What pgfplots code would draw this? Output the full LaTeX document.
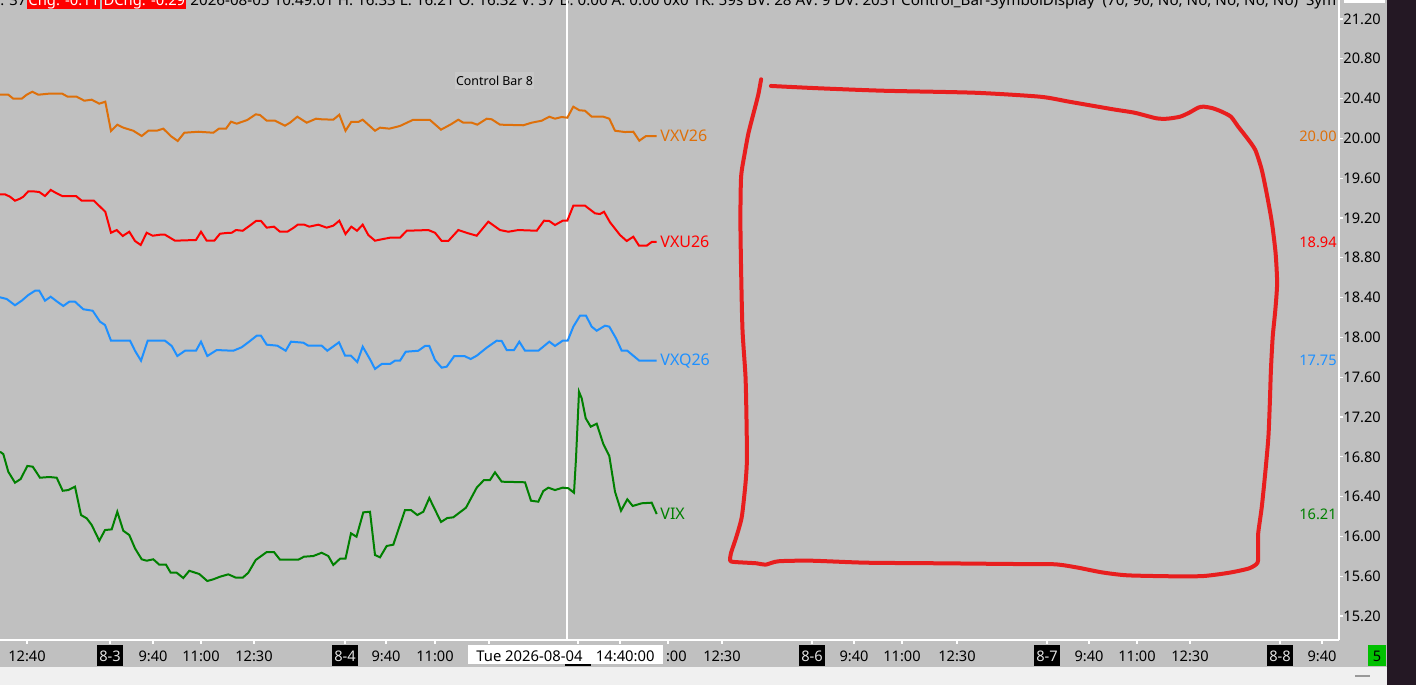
\documentclass[border=0pt]{standalone}
\usepackage{graphicx}
\usepackage{pgfplots}
\pgfplotsset{compat=1.18}
\usepackage{fontspec}
\setmainfont{Noto Sans}
\definecolor{bg}{RGB}{192,192,192}
\definecolor{lite}{RGB}{240,240,240}
\definecolor{dark}{RGB}{36,24,36}
\definecolor{cOr}{RGB}{222,112,10}
\definecolor{cRd}{RGB}{255,0,0}
\definecolor{cBl}{RGB}{30,144,255}
\definecolor{cGr}{RGB}{0,128,0}
\definecolor{cPen}{RGB}{232,30,30}
\definecolor{lbl}{RGB}{225,225,225}
\definecolor{cbg}{RGB}{200,200,200}
\definecolor{grn5}{RGB}{0,192,0}
\newcommand\tf{\fontsize{7.3}{9}\selectfont}
\newcommand\hf{\fontsize{7.4}{9}\selectfont}
\newcommand\lf{\fontsize{8}{10}\selectfont}
\newcommand\cf{\fontsize{6.2}{8}\selectfont}
\newcommand\dl[1]{{\setlength\fboxsep{1pt}\colorbox{black}{\rule[-1.5pt]{0pt}{8.5pt}\textcolor{lbl}{#1}}}}
\begin{document}
\begin{tikzpicture}
\path[use as bounding box] (0,-22.5pt) rectangle (708pt,320pt);
\clip (0,-22.5pt) rectangle (708pt,320pt);
\fill[bg] (0,-13.5pt) rectangle (693.5pt,320pt);
\fill[lite] (0,-22.5pt) rectangle (693.5pt,-13.5pt);
\fill[dark] (693.5pt,-22.5pt) rectangle (708pt,320pt);
\fill[white] (672pt,318.5pt) rectangle (692.5pt,320pt);
\draw[gray!80, line width=1pt] (677.5pt,-18pt) -- (685pt,-18pt);
% header line (cut at the top)
\begin{scope}
\clip (0,300pt) rectangle (669.5pt,320pt);
\node[anchor=base west, inner sep=0pt, font=\hf] at (0pt,317pt) {: 37};
\node[anchor=base west, fill=red, text=white, inner sep=0pt, text height=8pt, text depth=1.4pt, minimum width=36.5pt, font=\hf] at (13.5pt,317pt) {Chg: -0.11};
\node[anchor=base west, fill=red, text=white, inner sep=0pt, text height=8pt, text depth=1.4pt, minimum width=42pt, font=\hf] at (51pt,317pt) {DChg: -0.29};
\node[anchor=base west, inner sep=0pt, font=\hf] at (95pt,317pt) {\resizebox{573pt}{\height}{2026-08-05 10:49:01 H: 16.33 L: 16.21 O: 16.32 V: 37 B: 0.00 A: 0.00 0x0 TK: 59s BV: 28 AV: 9 DV: 2031 Control\_Bar-SymbolDisplay~~(70, 90, No, No, No, No, No)~~Sym}};
\end{scope}
\begin{axis}[
  at={(0pt,0pt)}, anchor=south west, scale only axis,
  width=669.5pt, height=320pt,
  xmin=0, xmax=1339, ymin=14.959, ymax=21.391,
  axis x line*=bottom, axis y line*=right,
  axis line style={white, line width=0.6pt},
  every tick/.style={white, line width=0.6pt},
  tick align=outside, major tick length=2pt,
  clip=false,
  ytick={15.2,15.6,16,16.4,16.8,17.2,17.6,18,18.4,18.8,19.2,19.6,20,20.4,20.8,21.2},
  yticklabels={15.20,15.60,16.00,16.40,16.80,17.20,17.60,18.00,18.40,18.80,19.20,19.60,20.00,20.40,20.80,21.20},
  yticklabel style={font=\tf, text=black, anchor=west, inner sep=0pt},
  xtick={27,110,153,201,254,345,386,435,489,578,620,668,722,812,854,902,957,1047,1089,1137,1190,1280,1322},
  xticklabels={12:40,\dl{8-3},9:40,11:00,12:30,\dl{8-4},9:40,11:00,12:30,\dl{8-5},9:40,11:00,12:30,\dl{8-6},9:40,11:00,12:30,\dl{8-7},9:40,11:00,12:30,\dl{8-8},9:40},
  xticklabel style={font=\tf, text=black, anchor=north, inner sep=0pt, text height=7pt, text depth=2pt, yshift=-1.5pt},
]
% cursor line
\addplot[white, line width=0.6pt] coordinates {(567,14.959) (567,21.391)};
% VXV26
\addplot[cOr, line width=1pt] coordinates {(0,20.439)(8.3,20.439)(13.3,20.399)(21.7,20.399)(26.7,20.439)(32.3,20.469)(38.3,20.439)(48.3,20.449)(62.3,20.449)(67.7,20.419)(76.7,20.419)(84.3,20.379)(91.7,20.389)(99.3,20.349)(105.3,20.369)(111,20.074)(117.3,20.138)(123.3,20.108)(133.3,20.077)(141.7,20.024)(148.3,20.077)(156.7,20.077)(163.3,20.098)(170.7,20.024)(177.7,19.974)(184.3,20.057)(198.3,20.067)(213.3,20.057)(219,20.098)(226,20.098)(231,20.168)(236.7,20.148)(247.3,20.185)(255.7,20.242)(260,20.235)(266.7,20.178)(275,20.178)(285,20.128)(290,20.158)(297.3,20.218)(306.7,20.158)(316,20.198)(321.7,20.192)(333.3,20.188)(339.3,20.238)(345.5,20.077)(351.2,20.165)(358.3,20.165)(362.7,20.188)(375,20.077)(380,20.108)(389.3,20.098)(400,20.125)(412.7,20.185)(430,20.185)(441,20.088)(451,20.142)(458.3,20.188)(463.3,20.158)(471.7,20.158)(477.3,20.138)(486.7,20.198)(491.7,20.192)(500,20.138)(523.3,20.132)(531.7,20.158)(541.7,20.178)(549.3,20.218)(555,20.198)(561.7,20.215)(567.3,20.208)(573.3,20.319)(579.3,20.283)(585,20.278)(591.7,20.218)(603.3,20.218)(609.3,20.198)(615,20.077)(625,20.064)(633.3,20.067)(639.3,19.977)(646,20.024)(656.7,20.024)};
% VXU26
\addplot[cRd, line width=1pt] coordinates {(0,19.438)(5,19.438)(10,19.414)(15,19.374)(20,19.394)(23.3,19.414)(28.3,19.468)(33.3,19.468)(39.3,19.461)(45,19.421)(50.7,19.482)(56.7,19.448)(62.3,19.421)(76,19.421)(81.7,19.374)(94,19.374)(100,19.314)(105.3,19.263)(111,19.052)(116.7,19.079)(122.7,19.019)(129.3,19.062)(135,18.969)(140.7,18.929)(146.7,19.052)(152.7,19.022)(160,19.032)(165,19.032)(175,18.972)(186.7,18.976)(196,18.979)(201,19.062)(206.7,18.972)(214.3,18.972)(220,19.042)(226,19.049)(231.7,19.052)(236,19.079)(242.7,19.072)(250.7,19.130)(256,19.170)(261,19.170)(266.7,19.103)(274,19.113)(280,19.062)(287.3,19.062)(293.3,19.100)(297.7,19.133)(304.3,19.133)(309.3,19.113)(318.3,19.133)(326.7,19.103)(333.3,19.123)(339.3,19.173)(345.5,19.039)(351.3,19.113)(357,19.072)(362.7,19.133)(368.3,19.029)(375,18.972)(381.7,18.986)(390,19.002)(400,19.002)(406.7,19.072)(428.3,19.079)(435,19.052)(441.7,18.969)(448.3,18.969)(458.3,19.079)(468.3,19.046)(476.7,19.022)(488.3,19.163)(500,19.079)(508.3,19.062)(518.3,19.079)(536.7,19.072)(544,19.173)(549.3,19.170)(555,19.130)(562.7,19.173)(567.3,19.173)(573.3,19.324)(585,19.324)(595,19.247)(600,19.240)(604,19.263)(610,19.157)(620,19.029)(626.7,18.969)(633.3,19.012)(639,18.922)(646.7,18.922)(651.7,18.959)(656.7,18.959)};
% VXQ26
\addplot[cBl, line width=1pt] coordinates {(0,18.403)(6.7,18.386)(15,18.323)(21.7,18.369)(28.3,18.426)(35,18.469)(39.3,18.469)(45,18.369)(50.7,18.409)(56.7,18.363)(63.3,18.316)(69.3,18.359)(75,18.359)(83.3,18.283)(92.7,18.268)(100,18.158)(105,18.125)(111,17.967)(130,17.967)(135,17.866)(141,17.766)(147.7,17.967)(165,17.967)(171.7,17.914)(177.3,17.813)(185,17.866)(196,17.866)(201,17.957)(207.3,17.813)(216.7,17.873)(233.3,17.866)(241.7,17.901)(250,17.964)(256.7,18.017)(261,18.017)(266.7,17.927)(277.3,17.917)(285.7,17.866)(291,17.957)(303.3,17.947)(308.3,17.917)(321.7,17.917)(327.3,17.866)(339,17.951)(345,17.818)(350.7,17.818)(357.3,17.753)(362.7,17.907)(370,17.780)(375,17.683)(381.7,17.733)(390,17.733)(395,17.766)(400,17.766)(405.7,17.856)(418.3,17.866)(425,17.914)(429.3,17.914)(435,17.773)(441.7,17.696)(446.7,17.706)(454.3,17.813)(464.3,17.813)(470.7,17.783)(476.7,17.816)(486.7,17.897)(496.7,17.967)(501.7,17.964)(506.7,17.873)(514,17.873)(519.3,17.957)(525,17.866)(538.3,17.866)(549.3,17.957)(555,17.914)(562.7,17.967)(567.7,17.967)(573.3,18.108)(580,18.218)(586,18.218)(591.7,18.108)(596.7,18.067)(605,18.118)(609.3,18.108)(616,17.991)(621.7,17.866)(627.3,17.866)(639.3,17.766)(656.7,17.766)};
% VIX
\addplot[cGr, line width=1pt] coordinates {(0,16.851)(3.3,16.828)(8.3,16.650)(15,16.540)(20.7,16.577)(27.3,16.708)(32.7,16.701)(40,16.590)(49.3,16.597)(56.7,16.590)(62.7,16.459)(68.3,16.466)(75,16.500)(81,16.215)(86.7,16.182)(91.7,16.115)(99.3,15.957)(105,16.064)(111.7,16.071)(117.3,16.248)(123.3,16.057)(129.3,16.014)(135,15.880)(141.7,15.770)(146.7,15.756)(153.3,15.770)(159.3,15.716)(166,15.716)(170.7,15.635)(176.7,15.635)(183.3,15.582)(189.3,15.655)(199.3,15.622)(207.3,15.552)(213.3,15.569)(220,15.595)(228.3,15.619)(236,15.585)(242.7,15.585)(248.3,15.635)(255.7,15.763)(266.7,15.843)(274,15.843)(280,15.766)(298.3,15.766)(304,15.796)(313.3,15.803)(321.7,15.836)(328.3,15.803)(333.3,15.713)(340,15.776)(345.5,15.776)(351,16.031)(356.5,15.997)(363.3,16.242)(370,16.248)(375,15.813)(380,15.790)(386.7,15.904)(393.3,15.917)(405,16.265)(411,16.265)(417.3,16.215)(423.3,16.248)(429.3,16.386)(441,16.145)(447.3,16.185)(453.3,16.192)(466,16.289)(476.7,16.490)(484,16.567)(490,16.567)(495,16.644)(501.7,16.550)(525,16.544)(531,16.359)(538.3,16.349)(543.3,16.456)(548.3,16.490)(555,16.466)(562.7,16.490)(568.3,16.484)(574,16.439)(576,16.785)(579,17.454)(581.7,17.388)(585.7,17.187)(590.7,17.103)(596.7,17.133)(603.3,16.929)(609.3,16.808)(615,16.449)(621,16.258)(627.3,16.373)(632.7,16.306)(641.7,16.333)(651.7,16.339)(656.7,16.225)};
% hand-drawn box
\addplot[cPen, line width=2pt, smooth, tension=0.4, line cap=round, line join=round] coordinates {(761.1,20.594)(758.2,20.436)(753.5,20.252)(748.4,20.051)(744.7,19.850)(741.1,19.615)(740.4,19.180)(741.1,18.677)(742.5,18.074)(745.5,17.605)(746.5,17.170)(746.9,16.768)(745.5,16.534)(741.8,16.198)(736.4,15.997)(730.9,15.830)(730.2,15.756)(734.5,15.743)(756.4,15.730)(765.5,15.716)(778.2,15.750)(810.9,15.756)(865.5,15.736)(938.2,15.730)(1010.9,15.723)(1054.5,15.720)(1076.4,15.689)(1101.8,15.639)(1127.3,15.609)(1174.5,15.599)(1203.6,15.602)(1229.1,15.635)(1249.1,15.679)(1257.5,15.736)(1258.2,15.863)(1258.2,16.031)(1261.8,16.299)(1265.5,16.667)(1268.4,17.002)(1269.8,17.338)(1270.9,17.672)(1272.7,18.007)(1275.3,18.275)(1277.1,18.544)(1275.6,18.845)(1272,19.147)(1267.3,19.414)(1261.8,19.682)(1255.3,19.883)(1247.3,20.001)(1238.2,20.118)(1230.9,20.218)(1221.8,20.268)(1212.7,20.303)(1203.6,20.319)(1198.2,20.309)(1189.1,20.258)(1180,20.218)(1167.3,20.198)(1156.4,20.202)(1134.5,20.258)(1112.7,20.293)(1069.1,20.369)(1040,20.419)(974.5,20.459)(883.6,20.479)(818.2,20.504)(770.9,20.527)};
% labels
\node[anchor=west, inner sep=0pt, font=\lf, text=cOr] at (axis cs:660,20.024) {VXV26};
\node[anchor=west, inner sep=0pt, font=\lf, text=cRd] at (axis cs:660,18.959) {VXU26};
\node[anchor=west, inner sep=0pt, font=\lf, text=cBl] at (axis cs:660,17.766) {VXQ26};
\node[anchor=west, inner sep=0pt, font=\lf, text=cGr] at (axis cs:660,16.225) {VIX};
\node[anchor=east, inner sep=0pt, font=\tf, text=cOr] at (axis cs:1337,20.024) {20.00};
\node[anchor=east, inner sep=0pt, font=\tf, text=cRd] at (axis cs:1337,18.959) {18.94};
\node[anchor=east, inner sep=0pt, font=\tf, text=cBl] at (axis cs:1337,17.766) {17.75};
\node[anchor=east, inner sep=0pt, font=\tf, text=cGr] at (axis cs:1337,16.225) {16.21};
\node[fill=cbg, inner sep=0pt, minimum width=39.5pt, minimum height=8.5pt, font=\cf] at (axis cs:494.5,20.582) {Control Bar 8};
\end{axis}
% tooltip over the time axis
\fill[white] (234pt,-2.5pt) rectangle (331.5pt,-12pt);
\node[anchor=base west, inner sep=0pt, font=\hf] at (238pt,-10.5pt) {Tue 2026-08-04};
\node[anchor=base east, inner sep=0pt, font=\hf] at (327.5pt,-10.5pt) {14:40:00};
% green box
\fill[grn5] (684pt,-2.5pt) rectangle (693pt,-13pt);
\node[anchor=base, inner sep=0pt, font=\tf] at (688.5pt,-10.5pt) {5};
\end{tikzpicture}
\end{document}
